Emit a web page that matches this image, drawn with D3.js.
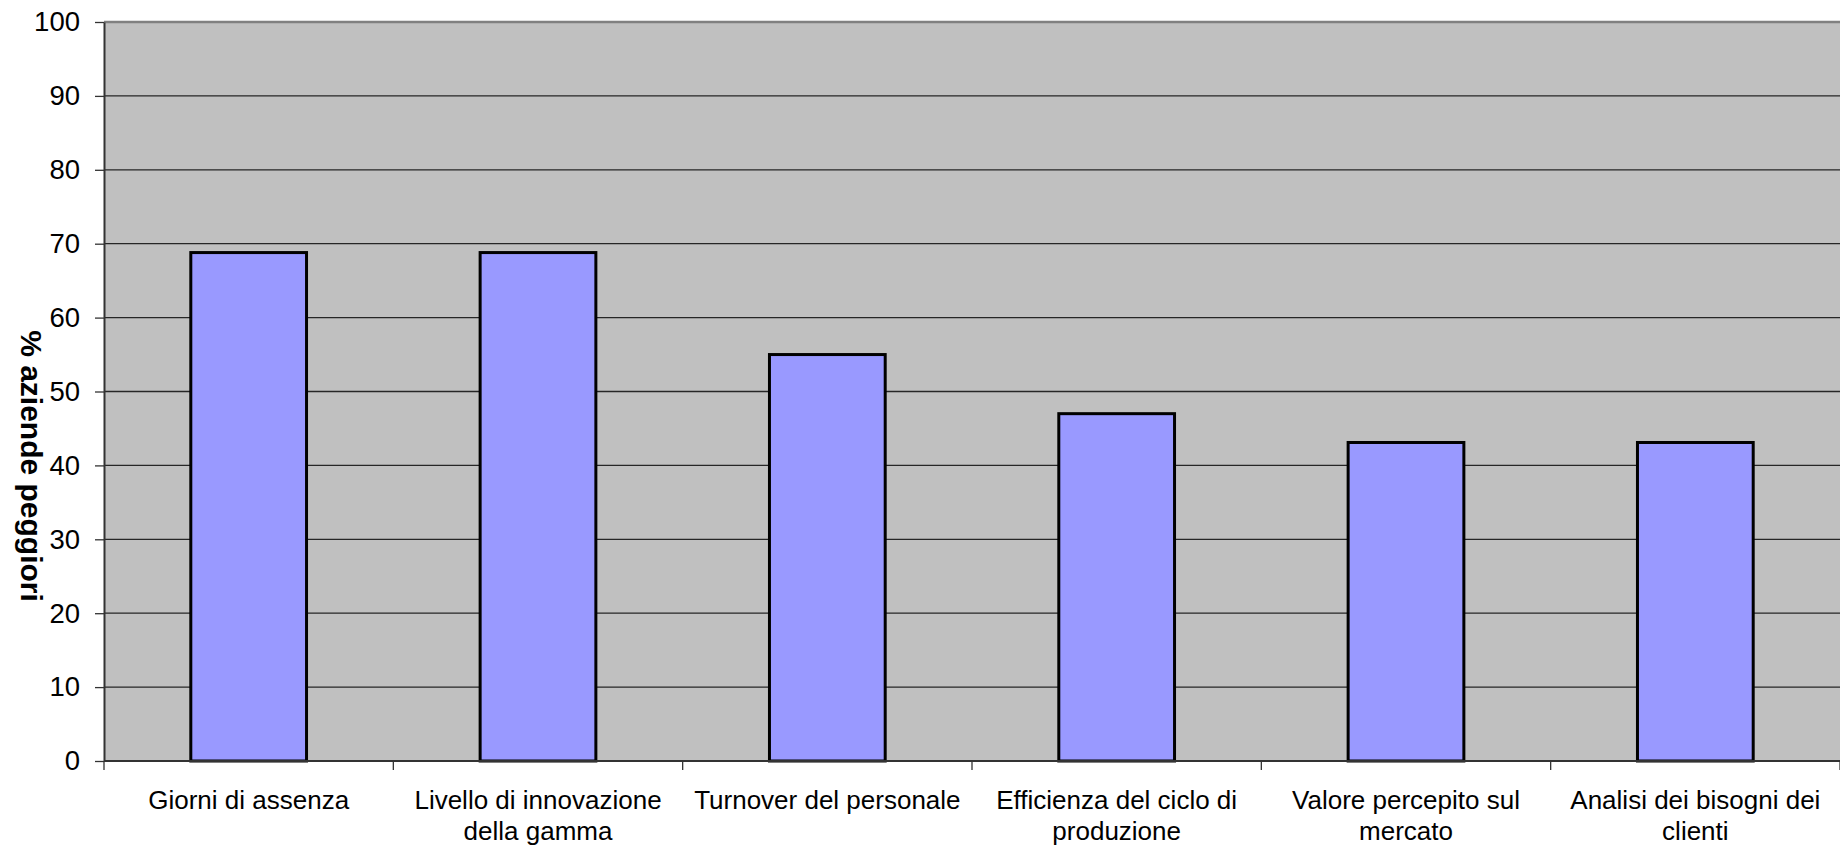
<!DOCTYPE html>
<html>
<head>
<meta charset="utf-8">
<script src="https://cdn.jsdelivr.net/npm/d3@7"></script>
<style>
  body { margin: 0; background: #fff; }
  svg { display: block; font-family: "Liberation Sans", Arial, sans-serif; }
</style>
</head>
<body>
<svg id="plot" width="1840" height="848"></svg>
<script>
// categories, split on two lines as in the original labels
const categories = [
    "Giorni di assenza",
    "Livello di innovazione",
    "Turnover del personale",
    "Efficienza del ciclo di",
    "Valore percepito sul",
    "Analisi dei bisogni dei"
]
const labelLines = [
    ["Giorni di assenza"],
    ["Livello di innovazione", "della gamma"],
    ["Turnover del personale"],
    ["Efficienza del ciclo di", "produzione"],
    ["Valore percepito sul", "mercato"],
    ["Analisi dei bisogni dei", "clienti"]
]
const values = [68.8, 68.8, 55.0, 47.0, 43.1, 43.1]
const yTicks = [0, 10, 20, 30, 40, 50, 60, 70, 80, 90, 100]
const yTitle = "% aziende peggiori"

const width = 1840
const height = 848
const margin = ({ top: 22, right: 0, bottom: 87, left: 104 })

const x = d3.scaleBand()
    .domain(categories)
    .range([margin.left, width - margin.right])
    .padding(0)

const y = d3.scaleLinear()
    .domain([0, 100])
    .range([height - margin.bottom, margin.top])

const svg = d3.select("#plot")

// plot area
svg.append("rect")
    .attr("x", margin.left)
    .attr("y", margin.top)
    .attr("width", width - margin.right - margin.left)
    .attr("height", y(0) - margin.top)
    .attr("fill", "#c0c0c0")

// gridlines
svg.append("g")
    .selectAll("line")
    .data(yTicks)
    .join("line")
    .attr("x1", margin.left)
    .attr("x2", width - margin.right)
    .attr("y1", d => y(d))
    .attr("y2", d => y(d))
    .attr("stroke", "#262626")
    .attr("stroke-width", 1.3)

// top border of plot
svg.append("line")
    .attr("x1", margin.left)
    .attr("x2", width - margin.right)
    .attr("y1", margin.top)
    .attr("y2", margin.top)
    .attr("stroke", "#808080")
    .attr("stroke-width", 2.5)

// bars
const bw = x.bandwidth()
svg.append("g")
    .selectAll("rect")
    .data(values)
    .join("rect")
    .attr("x", (d, i) => x(categories[i]) + bw * 0.3)
    .attr("width", bw * 0.4)
    .attr("y", d => y(d))
    .attr("height", d => y(0) - y(d))
    .attr("fill", "#9999ff")
    .attr("stroke", "#000")
    .attr("stroke-width", 3)

// y axis
svg.append("g")
    .attr("transform", `translate(${margin.left},0)`)
    .call(d3.axisLeft(y).tickValues(yTicks).tickSize(9).tickPadding(15).tickSizeOuter(0))
    .call(g => g.select(".domain").attr("stroke", "#333").attr("stroke-width", 2))
    .call(g => g.selectAll(".tick line").attr("stroke", "#333").attr("stroke-width", 1.3))
    .call(g => g.selectAll(".tick text")
        .attr("font-size", 27.5)
        .attr("font-family", "Liberation Sans, Arial, sans-serif")
        .attr("fill", "#000"))

// x axis line and category boundary ticks
const bounds = categories.map(c => x(c)).concat([x.range()[1]])
const xg = svg.append("g")
xg.append("line")
    .attr("x1", margin.left)
    .attr("x2", width - margin.right)
    .attr("y1", y(0))
    .attr("y2", y(0))
    .attr("stroke", "#333")
    .attr("stroke-width", 2)
xg.selectAll(".bt")
    .data(bounds)
    .join("line")
    .attr("class", "bt")
    .attr("x1", d => d)
    .attr("x2", d => d)
    .attr("y1", y(0))
    .attr("y2", y(0) + 9)
    .attr("stroke", "#333")
    .attr("stroke-width", 1.3)

// category labels
const labels = xg.selectAll(".cl")
    .data(categories)
    .join("text")
    .attr("class", "cl")
    .attr("text-anchor", "middle")
    .attr("font-size", 26)
    .attr("fill", "#000")
    .attr("transform", d => `translate(${x(d) + bw / 2},${y(0) + 48})`)
labels.selectAll("tspan")
    .data((d, i) => labelLines[i])
    .join("tspan")
    .attr("x", 0)
    .attr("dy", (d, j) => j === 0 ? 0 : 31)
    .text(d => d)

// y title, reading top to bottom
svg.append("text")
    .attr("transform", "translate(21,466) rotate(90)")
    .attr("text-anchor", "middle")
    .attr("font-size", 30)
    .attr("font-weight", "bold")
    .attr("fill", "#000")
    .text(yTitle)
</script>
</body>
</html>
